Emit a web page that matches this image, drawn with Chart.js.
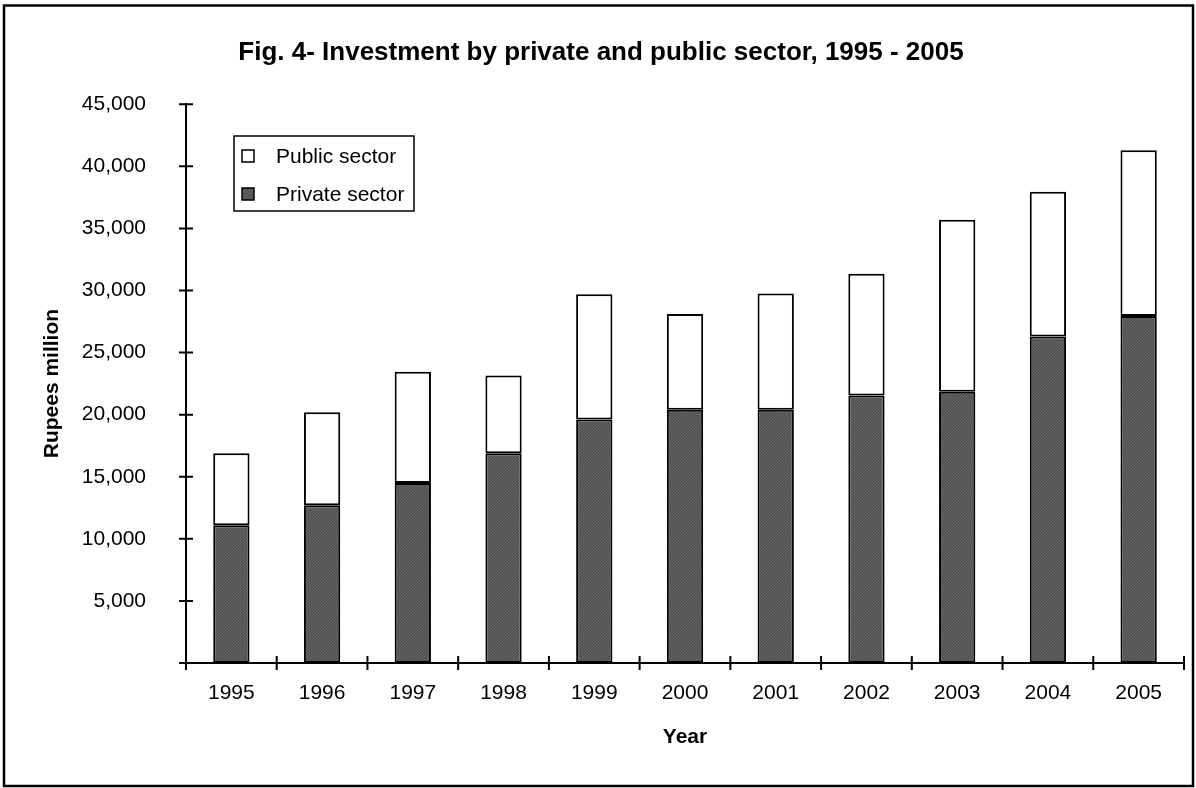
<!DOCTYPE html>
<html>
<head>
<meta charset="utf-8">
<script src="https://cdn.jsdelivr.net/npm/chart.js@4/dist/chart.umd.min.js"></script>
<style>
  html, body { margin: 0; padding: 0; background: #fff; }
  #wrap { width: 1196px; height: 788px; }
</style>
</head>
<body>
<div id="wrap"><canvas id="chart" width="1196" height="788"></canvas></div>
<script>
const years = ['1995', '1996', '1997', '1998', '1999', '2000', '2001', '2002', '2003', '2004', '2005'];
const privateSector = [11100, 12700, 14500, 16900, 19600, 20400, 20400, 21550, 21850, 26300, 27950];
const publicSector = [5800, 7500, 8950, 6250, 10100, 7700, 9350, 9800, 13850, 11650, 13350];
const yTicks = [0, 5000, 10000, 15000, 20000, 25000, 30000, 35000, 40000, 45000];

const FONT = "'Liberation Sans', Arial, sans-serif";

// dotted dark grey fill like the old Excel pattern
function makePattern() {
  const c = document.createElement('canvas');
  c.width = 3; c.height = 3;
  const g = c.getContext('2d');
  g.fillStyle = '#4f4f4f';
  g.fillRect(0, 0, 3, 3);
  g.fillStyle = '#6c6c6c';
  g.fillRect(0, 0, 1, 1);
  g.fillRect(2, 1, 1, 1);
  g.fillRect(1, 2, 1, 1);
  return g.createPattern(c, 'repeat');
}
const darkFill = makePattern();

// tick marks crossing the axes, legend box, outer frame
const decorations = {
  id: 'decorations',
  afterDraw(chart) {
    const ctx = chart.ctx;
    const x = chart.scales.x;
    const y = chart.scales.y;
    ctx.save();
    ctx.strokeStyle = '#000';
    ctx.lineWidth = 2;
    ctx.beginPath();
    yTicks.forEach(v => {
      const py = y.getPixelForValue(v);
      ctx.moveTo(x.left - 7, py);
      ctx.lineTo(x.left + 7, py);
    });
    for (let i = 0; i <= years.length; i++) {
      const px = x.getPixelForValue(i - 0.5);
      ctx.moveTo(px, y.bottom - 7);
      ctx.lineTo(px, y.bottom + 7);
    }
    ctx.stroke();

    // legend
    ctx.fillStyle = '#fff';
    ctx.fillRect(234, 136, 180, 75);
    ctx.lineWidth = 1.5;
    ctx.strokeRect(234, 136, 180, 75);
    const items = [
      { label: chart.data.datasets[1].label, fill: chart.data.datasets[1].backgroundColor, y: 156 },
      { label: chart.data.datasets[0].label, fill: chart.data.datasets[0].backgroundColor, y: 194 }
    ];
    ctx.font = '21px ' + FONT;
    ctx.textBaseline = 'middle';
    items.forEach(it => {
      ctx.fillStyle = it.fill;
      ctx.fillRect(242, it.y - 6, 12, 12);
      ctx.strokeRect(242, it.y - 6, 12, 12);
      ctx.fillStyle = '#000';
      ctx.fillText(it.label, 276, it.y + 1);
    });

    // frame
    ctx.lineWidth = 2.5;
    ctx.strokeRect(4, 5.5, 1189, 780.5);
    ctx.restore();
  }
};

const ctx = document.getElementById('chart').getContext('2d');
new Chart(ctx, {
  type: 'bar',
  data: {
    labels: years,
    datasets: [
      {
        label: 'Private sector',
        data: privateSector,
        backgroundColor: darkFill,
        borderColor: '#000',
        borderWidth: 2,
        borderSkipped: false,
        barPercentage: 0.4,
        categoryPercentage: 1
      },
      {
        label: 'Public sector',
        data: publicSector,
        backgroundColor: '#fff',
        borderColor: '#000',
        borderWidth: 2,
        borderSkipped: false,
        barPercentage: 0.4,
        categoryPercentage: 1
      }
    ]
  },
  options: {
    responsive: false,
    animation: false,
    layout: { padding: { left: 18, right: 12, top: 0, bottom: 0 } },
    plugins: {
      legend: { display: false },
      tooltip: { enabled: false },
      title: {
        display: true,
        text: 'Fig. 4- Investment by private and public sector, 1995 - 2005',
        color: '#000',
        font: { family: FONT, size: 26, weight: 'bold' },
        padding: { top: 37, bottom: 36 }
      }
    },
    scales: {
      x: {
        stacked: true,
        grid: { display: false, drawTicks: false },
        border: { display: true, color: '#000', width: 2 },
        ticks: { color: '#000', padding: 18, maxRotation: 0, font: { family: FONT, size: 21 } },
        title: {
          display: true,
          text: 'Year',
          color: '#000',
          font: { family: FONT, size: 21, weight: 'bold' },
          padding: { top: 0, bottom: 38 }
        },
        afterFit(scale) { scale.height = 125; }
      },
      y: {
        stacked: true,
        min: 0,
        max: 45000,
        grid: { display: false, drawTicks: false },
        border: { display: true, color: '#000', width: 2 },
        ticks: {
          stepSize: 5000,
          color: '#000',
          padding: 40,
          font: { family: FONT, size: 21 },
          callback: v => v === 0 ? '' : v.toLocaleString('en-US')
        },
        title: {
          display: true,
          text: 'Rupees million',
          color: '#000',
          font: { family: FONT, size: 21, weight: 'bold' },
          padding: { top: 22, bottom: 0 }
        },
        afterFit(scale) { scale.width = 168; }
      }
    }
  },
  plugins: [decorations]
});
</script>
</body>
</html>
